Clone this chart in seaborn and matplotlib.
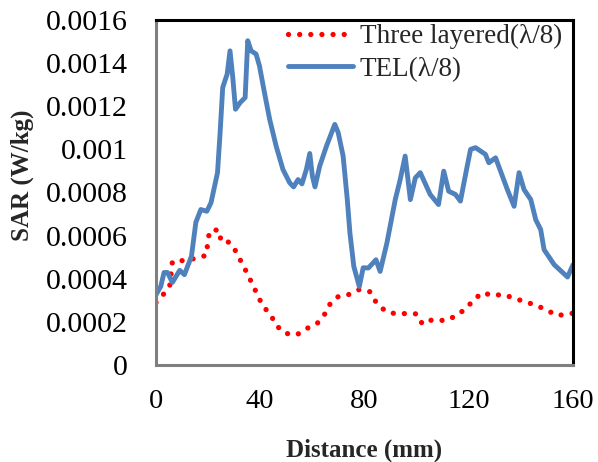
import matplotlib
matplotlib.use("Agg")
import matplotlib.pyplot as plt
import seaborn as sns
import pandas as pd

# Data
three_x = [0, 3, 5.3, 6.3, 10, 15, 19.2, 20.5, 24, 25.1, 28, 30.5, 35, 41, 44, 46, 49.5, 54, 58, 62,
           65, 67, 70, 74, 78, 82, 84.5, 88, 92, 96.6, 100, 102.2, 106, 111, 115, 119, 122, 125.4,
           129, 133, 137.5, 141.5, 145.5, 150, 154, 158, 160]
three_y = [0.00029, 0.00033, 0.00037, 0.00048, 0.000484, 0.000494, 0.000508, 0.00062, 0.000628,
           0.00057, 0.00057, 0.00053, 0.000425, 0.000273, 0.000234, 0.000185, 0.000147, 0.00014,
           0.00017, 0.000195, 0.00024, 0.000288, 0.000318, 0.000327, 0.00035, 0.00034, 0.00029,
           0.00025, 0.000237, 0.000239, 0.000237, 0.00019, 0.00021, 0.000206, 0.000227, 0.000262,
           0.000304, 0.000336, 0.000322, 0.000327, 0.00031, 0.000293, 0.000279, 0.000254,
           0.000229, 0.000237, 0.00024]

tel_x = [0, 1.8, 3.1, 4.4, 6.3, 9.1, 10.9, 13.6, 15.3, 17.2, 19.5, 21.1, 23.6, 24.6, 25.6, 27.3,
         28.4, 29.4, 30.5, 32.3, 34.2, 35.2, 36.5, 38.4, 39.7, 41.6, 43.6, 46.1, 48.7, 51.3, 52.8,
         54.5, 56.0, 57.7, 59.0, 60.0, 61.0, 62.8, 65.4, 68.6, 69.9, 71.8, 73.4, 74.4, 75.9, 78.0,
         79.5, 81.5, 84.4, 86.0, 88.6, 91.8, 93.7, 95.6, 97.6, 99.5, 101.4, 105.2, 108.4, 110.4,
         112.3, 114.9, 116.8, 119.4, 120.7, 122.6, 126.4, 127.7, 130.3, 134.8, 137.4, 139.3,
         141.2, 143.8, 145.7, 147.6, 148.9, 152.8, 157.9, 160]
tel_y = [0.000326, 0.000364, 0.000429, 0.000429, 0.000383, 0.000439, 0.000419, 0.000504, 0.000662,
         0.000721, 0.000713, 0.000752, 0.000892, 0.001078, 0.001287, 0.001349, 0.001457, 0.001341,
         0.001186, 0.001217, 0.00124, 0.001504, 0.001457, 0.001442, 0.001387, 0.001264, 0.00114,
         0.001015, 0.000907, 0.000845, 0.000826, 0.00086, 0.00084, 0.000907, 0.000981, 0.000876,
         0.000826, 0.000922, 0.001015, 0.001116, 0.001078, 0.000969, 0.000767, 0.000613, 0.000457,
         0.000364, 0.000451, 0.00045, 0.000488, 0.000434, 0.000566, 0.000767, 0.00086, 0.000969,
         0.000767, 0.000868, 0.000892, 0.000791, 0.000744, 0.000899, 0.000806, 0.000791, 0.00076,
         0.000922, 0.001, 0.001008, 0.000977, 0.000938, 0.000961, 0.000814, 0.000736, 0.000892,
         0.000814, 0.000767, 0.000674, 0.000628, 0.000535, 0.000465, 0.000408, 0.000465]

x_ticks = [0, 40, 80, 120, 160]
y_ticks = [0, 0.0002, 0.0004, 0.0006, 0.0008, 0.001, 0.0012, 0.0014, 0.0016]
y_tick_labels = ["0", "0.0002", "0.0004", "0.0006", "0.0008", "0.001", "0.0012", "0.0014", "0.0016"]
series_names = ["Three layered(λ/8)", "TEL(λ/8)"]

sns.set_style("white")
plt.rcParams['font.family'] = ['Liberation Serif', 'DejaVu Serif']

fig = plt.figure(figsize=(5.98, 4.62), dpi=100)
ax = fig.add_axes([156/598, 1 - 365/462, (573-156)/598, (365-20)/462])

df_three = pd.DataFrame({"x": three_x, "y": three_y})
df_tel = pd.DataFrame({"x": tel_x, "y": tel_y})

sns.lineplot(data=df_three, x="x", y="y", ax=ax, color="#FF0000", linewidth=3.8,
             linestyle=(0, (0.01, 2.1)), dash_capstyle="round", label=series_names[0])
sns.lineplot(data=df_tel, x="x", y="y", ax=ax, color="#4F81BD", linewidth=3.5,
             solid_capstyle="round", solid_joinstyle="round", label=series_names[1])

ax.set_xlim(0, 160)
ax.set_ylim(0, 0.0016)
ax.set_xticks(x_ticks)
ax.set_xticklabels([str(t) for t in x_ticks])
ax.set_yticks(y_ticks)
ax.set_yticklabels(y_tick_labels)
ax.tick_params(axis="both", length=0, colors="black")
ax.tick_params(axis="x", pad=17, labelsize=20.5)
ax.tick_params(axis="y", pad=20, labelsize=21.5)

ax.set_xlabel("Distance (mm)", fontsize=18, fontweight="bold", va="center")
ax.set_ylabel("SAR (W/kg)", fontsize=18, fontweight="bold", va="center")
ax.xaxis.set_label_coords(0.5, (365 - 450) / 345)
ax.yaxis.set_label_coords((22 - 156) / 417, (365 - 175) / 345)

for side in ["top", "right"]:
    ax.spines[side].set_color("black")
    ax.spines[side].set_linewidth(2.2)
for side in ["left", "bottom"]:
    ax.spines[side].set_color("#7f7f7f")
    ax.spines[side].set_linewidth(2.2)

leg = ax.legend(loc="upper left", bbox_to_anchor=((288 - 156) / 417, (365 - 24) / 345),
                frameon=False, fontsize=19.5, handlelength=2.4, handletextpad=0.25,
                labelspacing=0.28, borderpad=0, borderaxespad=0)

fig.savefig("out.png", dpi=100)
